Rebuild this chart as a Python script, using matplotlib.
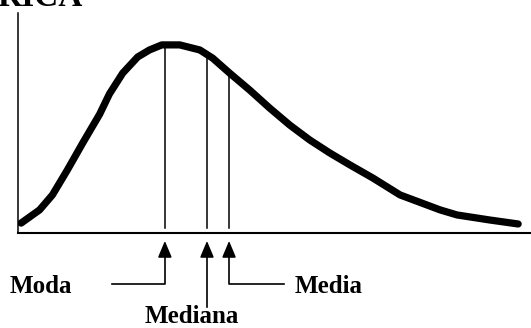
import numpy as np
import matplotlib.pyplot as plt

# skewed frequency curve (x and y in axis units 0-100)
x_curve = [0.7, 4.3, 6.8, 9.7, 12.7, 16.0, 17.9, 20.5, 23.4, 25.7, 28.1, 31.6,
           35.5, 38.0, 41.3, 45.2, 49.1, 53.0, 56.9, 60.8, 64.7, 69.2, 74.5,
           82.3, 85.6, 92.0, 97.5]
y_curve = [4.5, 10.5, 17.3, 28.6, 40.9, 54.0, 63.2, 72.7, 80.0, 83.2, 85.5, 85.5,
           83.2, 79.5, 72.7, 65.0, 56.8, 49.1, 42.3, 36.4, 31.0, 25.0, 17.3,
           10.5, 8.2, 5.9, 4.1]

# central tendency measures
names = ['Moda', 'Mediana', 'Media']
values = [28.7, 36.9, 41.2]

serif = 'Liberation Serif'

fig = plt.figure(figsize=(5.31, 3.28), dpi=100)
ax = fig.add_axes([17.5 / 531, 95 / 328, 513.5 / 531, 220 / 328])
ax.set_xlim(0, 100)
ax.set_ylim(0, 100)
ax.set_xticks([])
ax.set_yticks([])
for s in ['top', 'right']:
    ax.spines[s].set_visible(False)
ax.spines['left'].set_linewidth(1.1)
ax.spines['bottom'].set_linewidth(1.5)

ax.plot(x_curve, y_curve, color='black', lw=5.2,
        solid_capstyle='round', solid_joinstyle='round')

# vertical markers from the baseline up to the curve
for v in values:
    top = np.interp(v, x_curve, y_curve)
    ax.plot([v, v], [2.3, top], color='black', lw=1.1)

# arrows under the axis
arrow_tip = -3.6
elbow_y = -23.2
arrow_kw = dict(arrowstyle='-|>,head_length=1.0,head_width=0.42',
                color='black', lw=1.2, shrinkA=0, shrinkB=0, mutation_scale=10)

moda, mediana, media = values
ax.plot([18.5, moda, moda], [elbow_y, elbow_y, -8], color='black', lw=1.2, clip_on=False)
ax.annotate('', xy=(moda, arrow_tip), xytext=(moda, -9), arrowprops=arrow_kw,
            annotation_clip=False)

ax.plot([mediana, mediana], [-33.6, -8], color='black', lw=1.2, clip_on=False)
ax.annotate('', xy=(mediana, arrow_tip), xytext=(mediana, -9), arrowprops=arrow_kw,
            annotation_clip=False)

ax.plot([51.9, media, media], [elbow_y, elbow_y, -8], color='black', lw=1.2, clip_on=False)
ax.annotate('', xy=(media, arrow_tip), xytext=(media, -9), arrowprops=arrow_kw,
            annotation_clip=False)

label_kw = dict(fontsize=18, fontweight='bold', family=serif, va='baseline', ha='left')
ax.text(-1.56, -27.3, names[0], **label_kw)
ax.text(24.8, -41.0, names[1], **label_kw)
ax.text(54.0, -27.3, names[2], **label_kw)

fig.text(-3 / 531, 1 - 6.5 / 328, 'RICA', fontsize=24, fontweight='bold',
         family=serif, va='baseline', ha='left')

fig.savefig('out.png', dpi=100)
